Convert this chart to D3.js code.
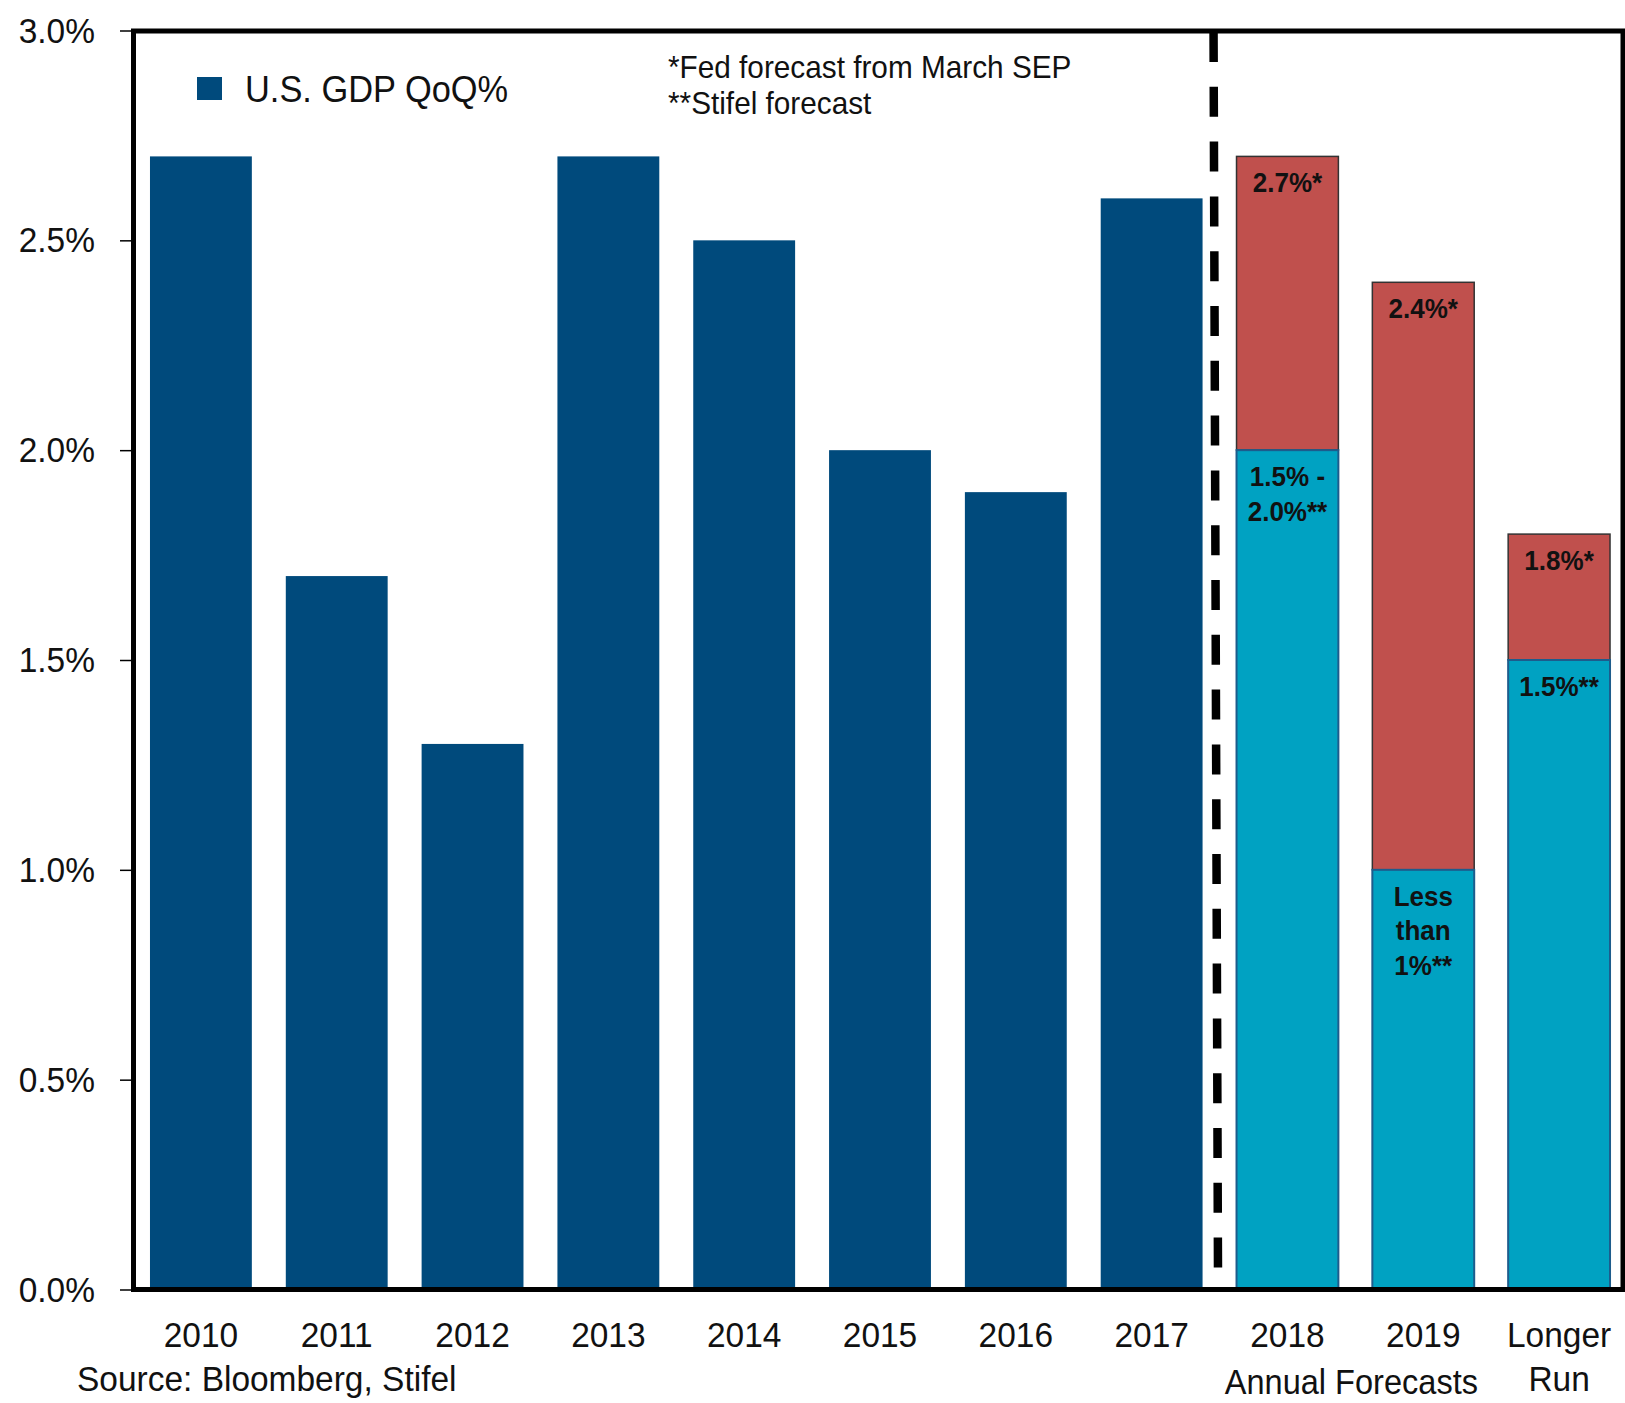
<!DOCTYPE html>
<html>
<head>
<meta charset="utf-8">
<script src="https://cdn.jsdelivr.net/npm/d3@7"></script>
<style>
  html, body { margin: 0; padding: 0; background: #fff; }
  svg { display: block; }
  text { font-family: "Liberation Sans", Arial, sans-serif; fill: #111; }
</style>
</head>
<body>
<svg id="chart" width="1625" height="1403"></svg>
<script>
// ---------------- data ----------------
const categories = ["2010","2011","2012","2013","2014","2015","2016","2017","2018","2019","Longer Run"];
const historyYears = ["2010","2011","2012","2013","2014","2015","2016","2017"];
const historyValues = [2.7, 1.7, 1.3, 2.7, 2.5, 2.0, 1.9, 2.6];
const forecastCats = ["2018","2019","Longer Run"];
const stifelForecast = [2.0, 1.0, 1.5];
const fedForecast = [2.7, 2.4, 1.8];
const stifelLabels = [["1.5% -","2.0%**"], ["Less","than","1%**"], ["1.5%**"]];
const fedLabels = ["2.7%*", "2.4%*", "1.8%*"];
const yTicks = [0, 0.5, 1.0, 1.5, 2.0, 2.5, 3.0];
const legendLabel = "U.S. GDP QoQ%";
const noteLines = ["*Fed forecast from March SEP", "**Stifel forecast"];
const groupLabel = "Annual Forecasts";
const sourceLabel = "Source: Bloomberg, Stifel";

// ---------------- layout ----------------
const SX = 0.93; // horizontal squeeze for narrow Arial-like look
const C_DARK = "#004A7C", C_TEAL = "#00A2C2", C_RED = "#C0504D";
const svg = d3.select("#chart");

const x = d3.scaleBand().domain(categories).range([133, 1627]).paddingInner(0.25).paddingOuter(0.125);
const y = d3.scaleLinear().domain([0, 3]).range([1289.5, 30.5]);

function label(g, tx, ty, str, size, weight, anchor) {
  return g.append("text")
    .attr("transform", `translate(${tx},${ty}) scale(${SX},1)`)
    .attr("text-anchor", anchor || "middle")
    .style("font-size", size + "px")
    .style("font-weight", weight || "normal")
    .text(str);
}

// history bars
svg.append("g").selectAll("rect").data(historyYears).join("rect")
  .attr("x", d => x(d))
  .attr("width", x.bandwidth())
  .attr("y", (d, i) => y(historyValues[i]))
  .attr("height", (d, i) => y(0) - y(historyValues[i]))
  .attr("fill", C_DARK);

// forecast bars: Stifel (teal, bottom) + Fed (red, stacked on top)
const fg = svg.append("g");
fg.selectAll("rect.red").data(forecastCats).join("rect").attr("class", "red")
  .attr("x", d => x(d))
  .attr("width", x.bandwidth())
  .attr("y", (d, i) => y(fedForecast[i]))
  .attr("height", (d, i) => y(stifelForecast[i]) - y(fedForecast[i]))
  .attr("fill", C_RED).attr("stroke", "#333").attr("stroke-width", 1.5);
fg.selectAll("rect.teal").data(forecastCats).join("rect").attr("class", "teal")
  .attr("x", d => x(d))
  .attr("width", x.bandwidth())
  .attr("y", (d, i) => y(stifelForecast[i]))
  .attr("height", (d, i) => y(0) - y(stifelForecast[i]))
  .attr("fill", C_TEAL).attr("stroke", "#1D5C8C").attr("stroke-width", 2);

// dashed divider between actuals and forecasts
const gapX = x("2018") - x.step() * x.paddingInner() / 2;
svg.append("line")
  .attr("x1", gapX - 6).attr("y1", 32)
  .attr("x2", gapX - 1.5).attr("y2", 1289)
  .attr("stroke", "#000").attr("stroke-width", 8.5)
  .attr("stroke-dasharray", "30 24.8");

// frame
svg.append("rect")
  .attr("x", 133.5).attr("y", 31)
  .attr("width", 1623 - 133.5).attr("height", y(0) - 31)
  .attr("fill", "none").attr("stroke", "#000").attr("stroke-width", 5);

// y axis
const yAxis = svg.append("g").attr("transform", "translate(131,0)")
  .call(d3.axisLeft(y).tickValues(yTicks).tickFormat(d => d.toFixed(1) + "%").tickSize(11).tickPadding(25));
yAxis.select(".domain").remove();
yAxis.selectAll(".tick line").attr("stroke", "#000").attr("stroke-width", 1.5);
yAxis.selectAll(".tick text")
  .style("font-size", "36px").style("font-family", null)
  .attr("x", -36 / SX)
  .attr("transform", `scale(${SX},1)`)
  .attr("fill", "#111");

// x axis
const xAxis = svg.append("g").attr("transform", `translate(0,${y(0)})`)
  .call(d3.axisBottom(x).tickSize(0).tickPadding(0));
xAxis.select(".domain").remove();
xAxis.selectAll(".tick text").each(function(d) {
  const t = d3.select(this);
  t.text(null).attr("y", 0).attr("dy", null)
    .attr("transform", `scale(${SX},1)`)
    .style("font-size", "36px").style("font-family", null).attr("fill", "#111");
  d.split(" ").forEach((w, i) => {
    t.append("tspan").attr("x", 0).attr("y", 57.5 + i * 44).text(w);
  });
});

// bar labels
const lg = svg.append("g");
forecastCats.forEach((c, i) => {
  const cx = x(c) + x.bandwidth() / 2;
  label(lg, cx, y(fedForecast[i]) + 36, fedLabels[i], 28, "bold");
  stifelLabels[i].forEach((ln, j) => {
    label(lg, cx, y(stifelForecast[i]) + 36 + j * 34.5, ln, 28, "bold");
  });
});

// legend
svg.append("rect").attr("x", 197).attr("y", 77).attr("width", 25).attr("height", 23).attr("fill", C_DARK);
label(svg, 245, 102, legendLabel, 37, "normal", "start");

// notes
noteLines.forEach((t, i) => label(svg, 668, 78 + i * 36, t, 32, "normal", "start"));

// group label and source
label(svg, (x("2018") + x("2019") + x.bandwidth()) / 2 - 4, 1394, groupLabel, 35, "normal", "middle");
label(svg, 77, 1391, sourceLabel, 36, "normal", "start");
</script>
</body>
</html>
